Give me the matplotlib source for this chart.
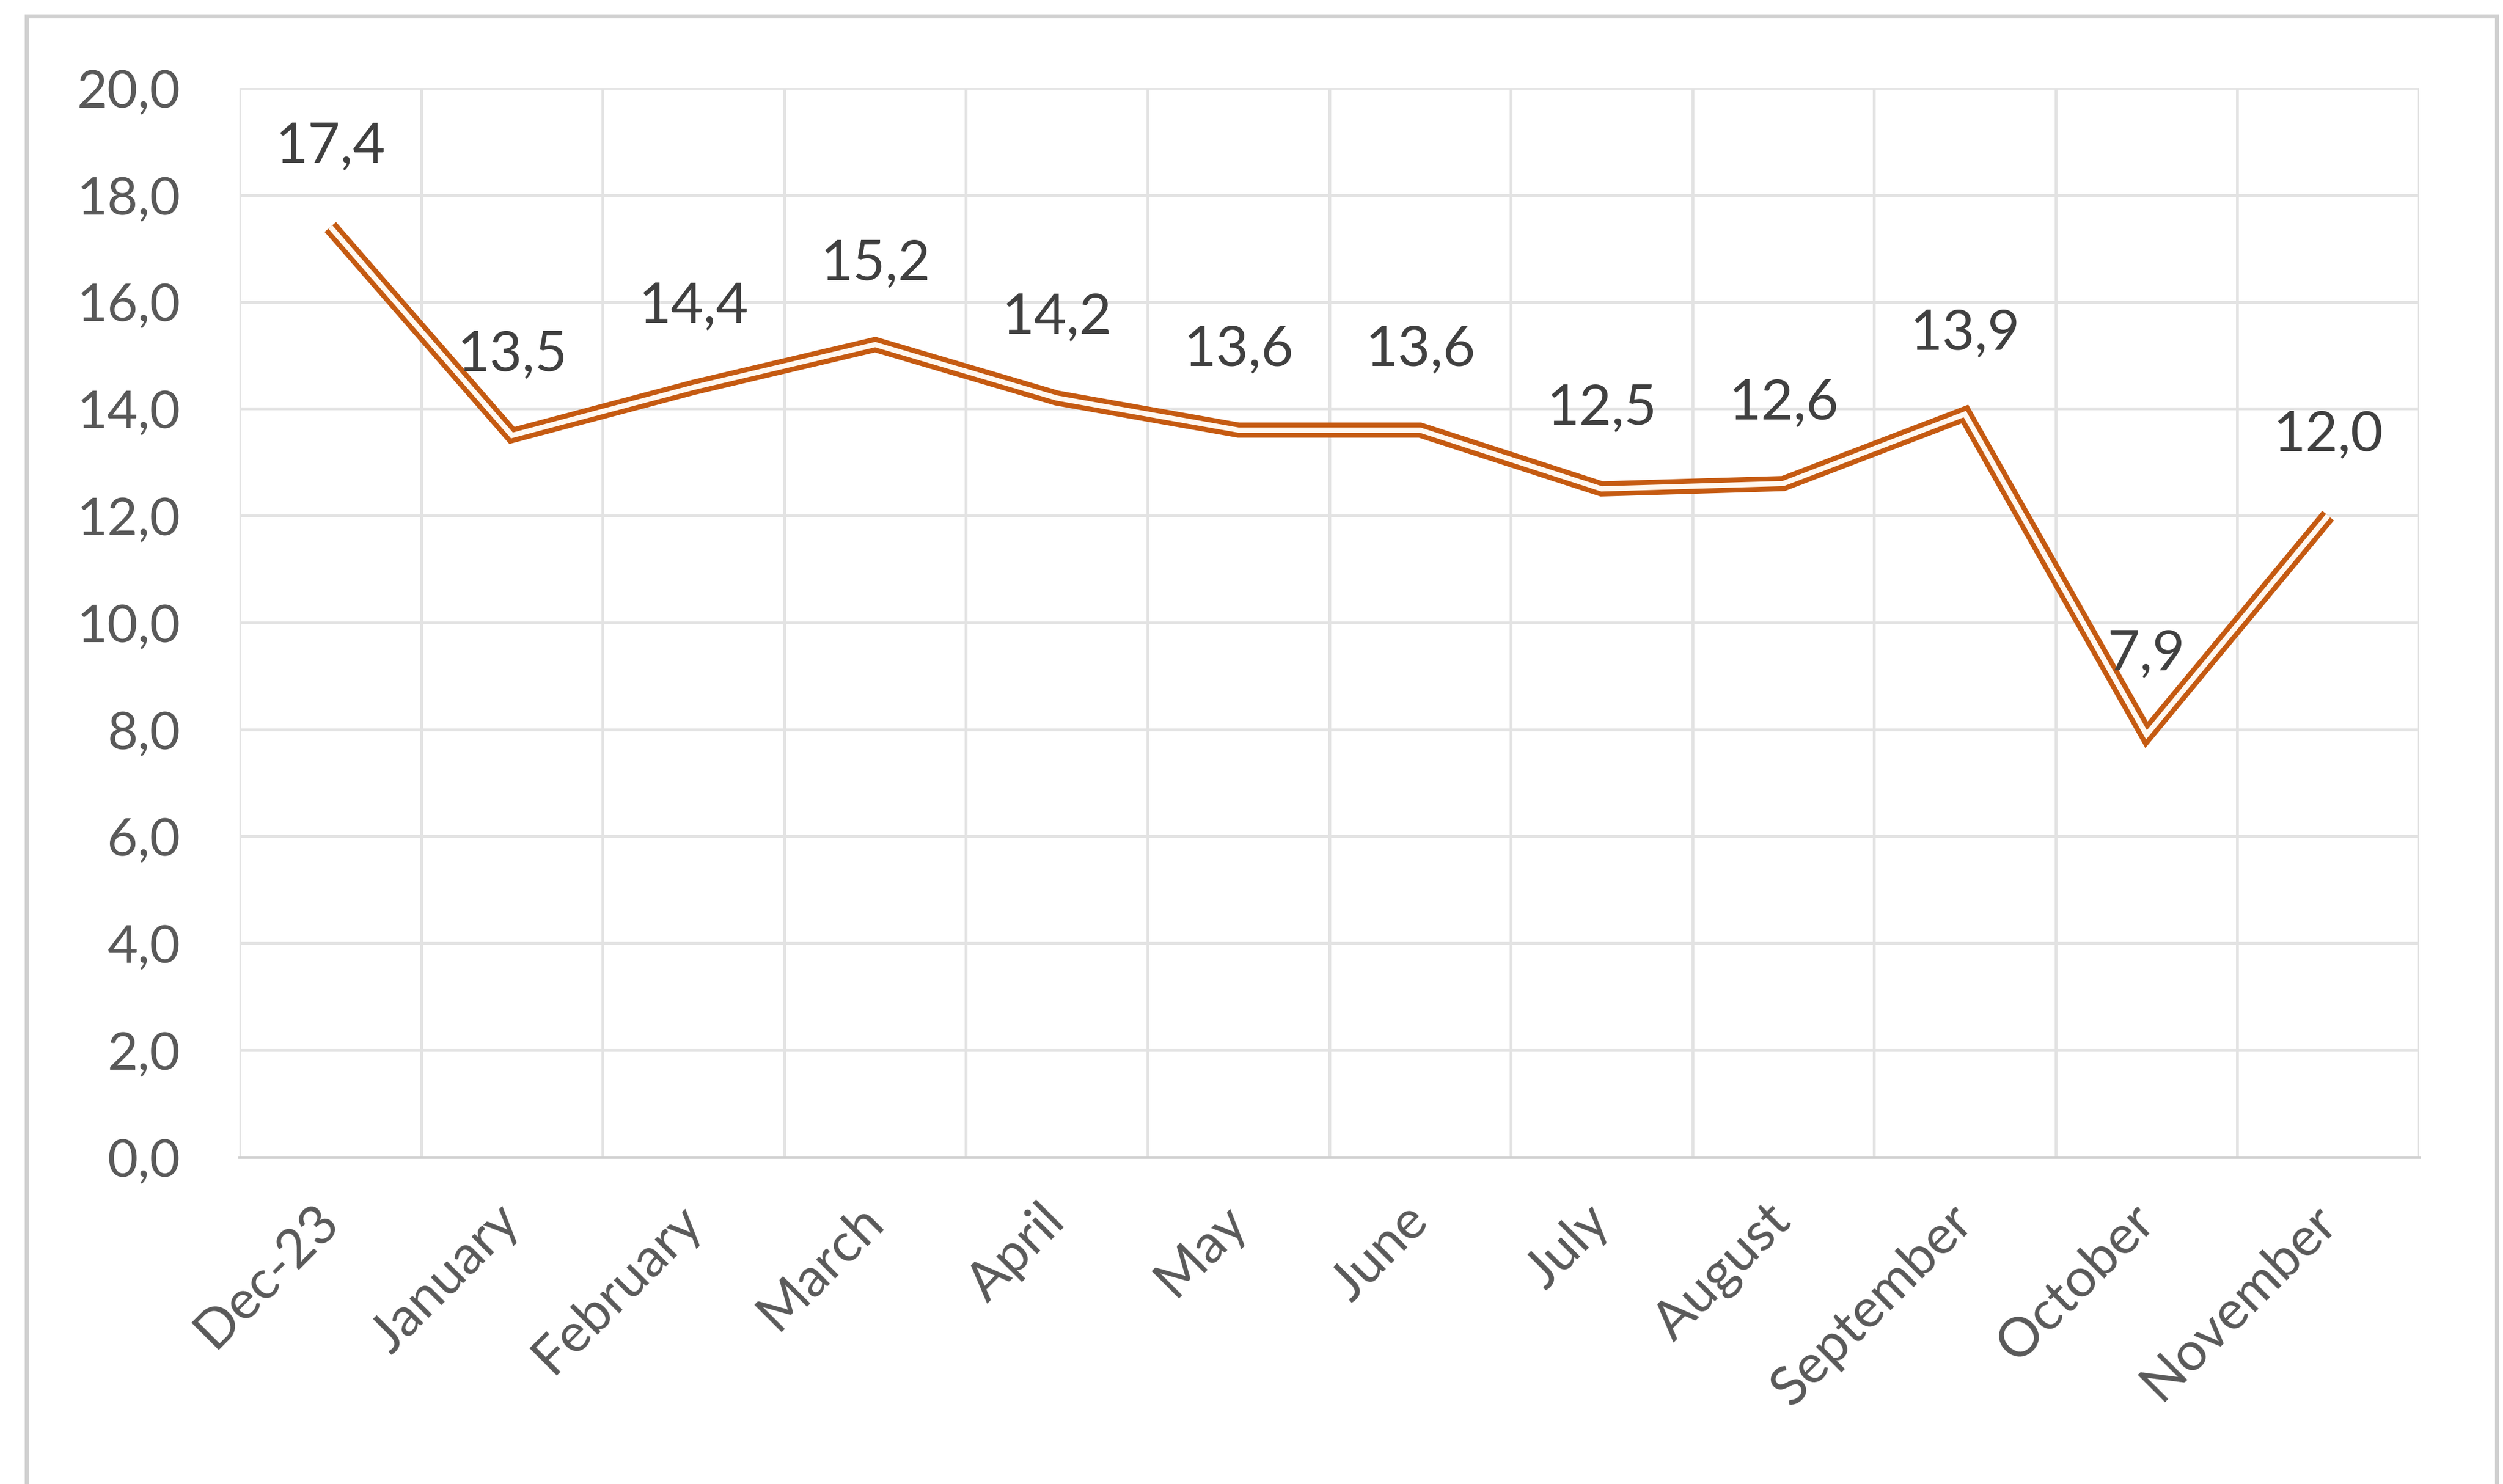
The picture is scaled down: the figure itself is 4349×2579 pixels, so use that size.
import matplotlib.pyplot as plt
from matplotlib.patches import Rectangle

months = ["Dec-23", "January", "February", "March", "April", "May", "June",
          "July", "August", "September", "October", "November"]
values = [17.4, 13.5, 14.4, 15.2, 14.2, 13.6, 13.6, 12.5, 12.6, 13.9, 7.9, 12.0]
y_ticks = [0, 2, 4, 6, 8, 10, 12, 14, 16, 18, 20]

plt.rcParams['font.family'] = ['Lato', 'DejaVu Sans']

fig = plt.figure(figsize=(43.49, 25.79), dpi=100)
ax = fig.add_axes([0.0957, 0.2203, 0.8707, 0.7204])

# outer chart frame
fig.patches.append(Rectangle((0.0105, -0.02), 0.987, 1.009, transform=fig.transFigure,
                             fill=False, edgecolor='#D0D0D0', linewidth=5))

x = list(range(len(months)))

# double line: thick brown then thin white on top
ax.plot(x, values, color='#C55A11', linewidth=19, solid_joinstyle='miter',
        solid_capstyle='butt', zorder=3)
ax.plot(x, values, color='#FFF8F0', linewidth=6.5, solid_joinstyle='miter',
        solid_capstyle='butt', zorder=4)

for xi, v in zip(x, values):
    ax.annotate(f"{v:.1f}".replace('.', ','), (xi, v), xytext=(0, 100),
                textcoords='offset points', ha='center', va='center',
                fontsize=70, color='#404040', zorder=5)

ax.set_xlim(-0.5, len(months) - 0.5)
ax.set_ylim(0, 20)
ax.set_yticks(y_ticks)
ax.set_yticklabels([f"{t:.1f}".replace('.', ',') for t in y_ticks])
ax.set_xticks(x)
ax.set_xticklabels(months, rotation=45, ha='right', va='center', rotation_mode='anchor')
ax.set_xticks([i - 0.5 for i in range(len(months) + 1)], minor=True)

ax.tick_params(axis='y', length=0, pad=74, labelsize=66, labelcolor='#595959')
ax.tick_params(axis='x', which='major', length=0, pad=70, labelsize=68, labelcolor='#595959')
ax.tick_params(axis='x', which='minor', length=0)

ax.grid(axis='y', which='major', color='#E3E3E3', linewidth=3.5)
ax.grid(axis='x', which='minor', color='#E3E3E3', linewidth=3.5)
ax.grid(axis='x', which='major', visible=False)

for s in ['top', 'right', 'left']:
    ax.spines[s].set_visible(False)
ax.spines['bottom'].set_color('#D0D0D0')
ax.spines['bottom'].set_linewidth(3.5)

fig.savefig('out.png', dpi=100)
